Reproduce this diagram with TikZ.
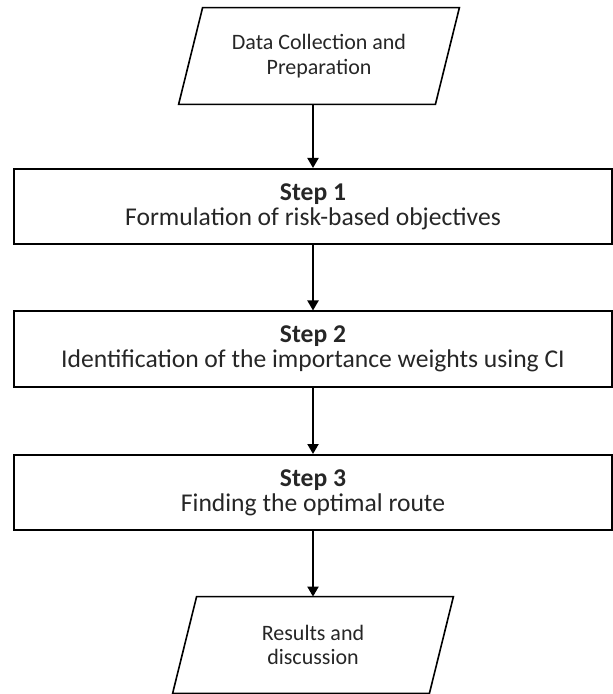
\documentclass[tikz,border=0pt]{standalone}
\usepackage{fontspec}
\setmainfont{Carlito}
\usetikzlibrary{arrows.meta}
\definecolor{ink}{HTML}{262626}

\begin{document}
\begin{tikzpicture}[
        x=0.5pt, y=0.5pt,
        stepbox/.style={rectangle, draw, line width=1pt, minimum width=299pt,
                   minimum height=37.5pt, inner sep=0pt, align=center,
                   text=ink, font=\fontsize{12.8}{12.4}\selectfont},
        iobox/.style={rectangle, minimum width=128pt, minimum height=48pt,
                   inner sep=0pt, align=center, text=ink,
                   font=\fontsize{11}{12.4}\selectfont},
        slant/.style={line width=0.8pt, line join=miter},
        ar/.style={-{Triangle[width=5.5pt, length=5pt]}, line width=1pt},
      ]
      \useasboundingbox (0,0) rectangle (612,-694);

      % Input and output
      \node[iobox] (data) at (319,-56) {Data Collection and\\Preparation};
      \node[iobox] (res) at (313,-645) {Results and\\discussion};
      \foreach \n in {data,res}
        \draw[slant] ([xshift=6pt]\n.north west) -- ([xshift=6pt]\n.north east)
          -- ([xshift=-6pt]\n.south east) -- ([xshift=-6pt]\n.south west) -- cycle;

      % Three steps
      \node[stepbox] (s1) at (313,-206.5) {\textbf{Step 1}\\Formulation of risk-based objectives};
      \node[stepbox] (s2) at (313,-349) {\textbf{Step 2}\\Identification of the importance weights using CI};
      \node[stepbox] (s3) at (313,-492.5) {\textbf{Step 3}\\Finding the optimal route};

      % Arrows
      \draw[ar] (data.south -| s1.north) -- (s1);
      \draw[ar] (s1) -- (s2);
      \draw[ar] (s2) -- (s3);
      \draw[ar] (s3) -- (res);
      \end{tikzpicture}
\end{document}
